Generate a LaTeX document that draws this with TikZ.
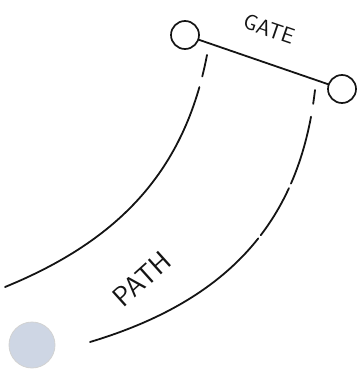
\documentclass[tikz,border=0pt]{standalone}
\usepackage{xcolor}
\definecolor{ballgrey}{RGB}{206,214,228}
\definecolor{ink}{RGB}{20,20,20}
\usepackage{tikz}
\usetikzlibrary{positioning,calc}

\begin{document}
\begin{tikzpicture}[x=1pt, y=-1pt, line cap=round, line join=round]
    \tikzstyle{gatepost}=[circle, draw=ink, line width=1.7pt, minimum size=28pt, inner sep=0pt]
    \tikzstyle{sketch}=[draw=ink, line width=1.8pt]
    \tikzstyle{scrawl}=[text=ink, font=\sffamily\fontsize{22}{24}\selectfont, inner sep=0pt]

    % Fixed page frame
    \useasboundingbox (0,0) rectangle (358,371);

    % Gate posts and bar
    \node[gatepost] (postL) at (185,35) {};
    \node[gatepost] (postR) at (342,89) {};
    \draw[sketch] (postL) -- (postR);
    \node[scrawl, rotate=-19] (gate) at (269,29) {GATE};

    % Path borders
    \draw[sketch, dash pattern=on 22pt off 11pt on 400pt]
        (207,55) .. controls (185,170) and (120,240) .. (5,287);
    \draw[sketch, dash pattern=on 14pt off 13pt on 70pt off 5pt on 55pt off 4pt on 300pt]
        (315,90) .. controls (300,220) and (230,300) .. (90,342);
    \node[scrawl, rotate=42, font=\sffamily\fontsize{28}{30}\selectfont] (path) at (142,279) {PATH};

    % Ball
    \node[circle, fill=ballgrey, draw=gray!35, line width=0.8pt, minimum size=46pt, inner sep=0pt] (ball) at (32,345) {};
\end{tikzpicture}
\end{document}
